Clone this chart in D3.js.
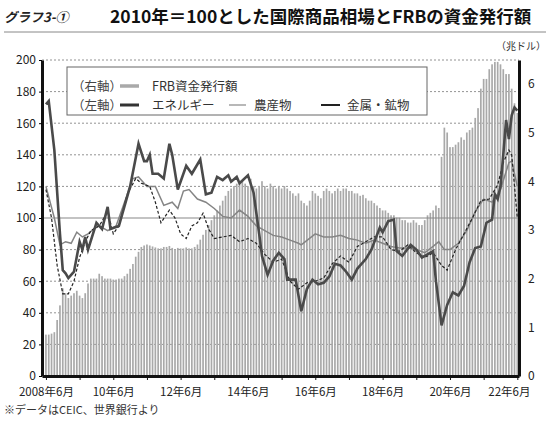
<!DOCTYPE html>
<html><head><meta charset="utf-8">
<script src="https://cdn.jsdelivr.net/npm/d3@7"></script>
<style>body{margin:0;background:#fff}text{font-family:"Noto Sans CJK JP","Noto Sans",sans-serif}</style>
</head><body><svg id="c" width="550" height="422"></svg>
<script>
// FRB money (trillion $), monthly from 2008-06
const frbStart = "2008-06";
const frb = [0.85,0.85,0.87,0.9,1.15,1.45,1.8,
1.7,1.6,1.65,1.7,1.75,1.65,1.6,1.7,1.9,2.0,2.0,2.0,
2.1,2.05,2.0,2.0,2.0,1.98,1.98,2.0,2.0,2.05,2.1,2.2,
2.3,2.45,2.55,2.65,2.68,2.7,2.68,2.66,2.64,2.62,2.62,2.65,
2.65,2.67,2.63,2.6,2.63,2.62,2.62,2.64,2.62,2.62,2.65,2.7,
2.8,2.9,3.0,3.1,3.2,3.3,3.4,3.5,3.6,3.7,3.8,3.85,
3.9,3.95,3.95,4.0,3.95,3.9,4.05,3.9,3.85,3.9,4.0,3.9,
3.85,3.95,3.9,3.85,3.9,3.85,3.9,3.85,3.8,3.75,3.7,3.75,
3.6,3.55,3.5,3.6,3.8,3.75,3.7,3.65,3.8,3.85,3.8,3.75,
3.8,3.85,3.8,3.85,3.85,3.8,3.8,3.75,3.75,3.7,3.72,3.65,
3.6,3.6,3.55,3.5,3.45,3.4,3.4,3.35,3.3,3.3,3.25,3.25,
3.2,3.2,3.15,3.15,3.2,3.15,3.1,3.1,3.2,3.3,3.35,3.4,
3.5,3.45,4.5,5.1,5.0,4.7,4.7,4.75,4.8,4.9,4.85,5.0,
5.05,5.1,5.3,5.5,5.9,6.1,6.1,6.3,6.4,6.45,6.45,6.4,
6.3,6.2,6.2,5.9,5.6,5.4];
// Energy index (2010=100): [month offset from 2008-06, value]
const energy = [[0,172],[1,174],[3,143],[5,90],[6,67],[7,65],[8,62],[10,66],[12,85],[13,80],[14,88],[15,80],[18,97],[20,93],[22,107],[23,93],[26,95],[30,120],[33,147],[35,136],[36,136],[37,140],[38,128],[40,128],[42,125],[44,147],[45,140],[47,118],[50,133],[52,128],[55,137],[57,115],[59,116],[61,126],[63,124],[65,127],[66,123],[68,126],[69,122],[72,127],[74,116],[76,90],[77,76],[79,64],[81,73],[83,78],[85,74],[86,61],[89,61],[91,41],[93,55],[95,61],[97,58],[99,59],[101,63],[103,71],[105,70],[107,66],[109,61],[111,68],[114,74],[116,80],[119,94],[120,91],[122,98],[124,99],[125,79],[127,76],[130,83],[132,80],[134,75],[136,77],[138,79],[139,60],[141,32],[143,45],[145,53],[147,51],[149,57],[151,72],[153,81],[155,82],[157,97],[159,99],[160,115],[161,112],[162,120],[163,140],[164,162],[165,150],[166,165],[167,170],[168,168]];
const agri = [[0,120],[3,100],[5,83],[7,85],[9,84],[11,91],[13,88],[15,90],[17,93],[19,95],[22,92],[25,95],[28,110],[31,125],[33,126],[36,120],[39,120],[42,108],[45,110],[47,106],[49,117],[51,118],[54,112],[57,110],[60,106],[63,101],[66,100],[69,105],[72,101],[75,95],[78,92],[81,89],[84,88],[87,86],[90,84],[91,83],[96,90],[99,88],[102,88],[105,89],[108,87],[111,86],[114,84],[117,86],[120,84],[123,82],[126,81],[129,81],[132,80],[135,78],[138,82],[140,85],[142,80],[144,80],[147,84],[150,92],[153,104],[156,112],[159,110],[162,118],[165,135],[166,136],[168,120]];
const metals = [[0,118],[2,100],[4,70],[6,52],[8,52],[10,60],[12,75],[14,85],[16,92],[19,95],[22,104],[24,90],[26,95],[29,115],[32,125],[34,122],[37,120],[39,110],[41,97],[44,105],[46,100],[48,90],[50,87],[52,95],[54,97],[56,103],[58,93],[60,87],[63,88],[66,89],[69,85],[72,87],[75,84],[78,77],[81,72],[84,74],[87,60],[90,55],[93,59],[96,60],[99,62],[102,71],[105,76],[108,72],[111,82],[114,85],[117,88],[120,88],[123,80],[126,79],[129,83],[132,78],[135,75],[138,78],[141,70],[143,67],[146,80],[149,90],[152,100],[155,111],[158,112],[161,121],[163,135],[165,143],[166,140],[167,120],[168,100]];
const leftTicks = [0,20,40,60,80,100,120,140,160,180,200];
const rightTicks = [0,1,2,3,4,5,6];
const xTickLabels = ["2008年6月","10年6月","12年6月","14年6月","16年6月","18年6月","20年6月","22年6月"];

const svg = d3.select("#c");
const x = d3.scaleLinear().domain([-1.4,168.6]).range([42,519]);
const yL = d3.scaleLinear().domain([0,200]).range([376,60]);
const yR = d3.scaleLinear().domain([0,316/48.7]).range([376,60]);

svg.append("text").attr("x",4).attr("y",22).attr("font-size",13).attr("font-weight","bold").attr("font-style","italic").attr("fill","#222").text("グラフ3-①");
svg.append("text").attr("x",110).attr("y",23).attr("font-size",17.5).attr("font-weight","bold").attr("fill","#111").text("2010年＝100とした国際商品相場とFRBの資金発行額");
svg.append("line").attr("x1",4).attr("x2",546).attr("y1",32).attr("y2",32).attr("stroke","#888").attr("stroke-width",1);

leftTicks.forEach(t=>{ if(t===0||t===100) return;
  svg.append("line").attr("x1",42).attr("x2",519).attr("y1",yL(t)).attr("y2",yL(t))
   .attr("stroke","#777").attr("stroke-width",0.8).attr("stroke-dasharray","2,2");
});
const bw = 1.7;
svg.append("g").selectAll("rect").data(frb).join("rect")
  .attr("x",(d,i)=>x(i)-bw/2).attr("width",bw).attr("y",d=>yR(d)).attr("height",d=>376-yR(d)).attr("fill","#a9a9a9");
svg.append("line").attr("x1",42).attr("x2",519).attr("y1",yL(100)).attr("y2",yL(100)).attr("stroke","#888").attr("stroke-width",1.2);

const line = d3.line().x(d=>x(d[0])).y(d=>yL(d[1]));
svg.append("path").datum(agri).attr("d",line).attr("fill","none").attr("stroke","#858585").attr("stroke-width",1.5);
svg.append("path").datum(metals).attr("d",line).attr("fill","none").attr("stroke","#222").attr("stroke-width",1.2).attr("stroke-dasharray","3,2");
svg.append("path").datum(energy).attr("d",line).attr("fill","none").attr("stroke","#4a4a4a").attr("stroke-width",2.6);

const gl = svg.append("g").attr("transform","translate(42,0)")
  .call(d3.axisLeft(yL).tickValues(leftTicks).tickSize(3).tickSizeOuter(0));
const gr = svg.append("g").attr("transform","translate(519,0)")
  .call(d3.axisRight(yR).tickValues(rightTicks).tickFormat(d3.format("d")).tickSize(0).tickSizeOuter(0).tickPadding(9));
const xTickVals = d3.range(0,169,12);
const gx = svg.append("g").attr("transform","translate(0,376)")
  .call(d3.axisBottom(x).tickValues(xTickVals).tickSize(4).tickSizeOuter(0)
   .tickFormat((d,i)=> i%2===0 ? xTickLabels[i/2] : ""));
[gl,gr,gx].forEach(g=>{
  g.selectAll("text").attr("font-size",12).attr("fill","#222");
});
gx.selectAll("text").attr("font-size",11.5).attr("dy","1.15em");
gx.selectAll(".tick").filter((d,i)=>i===14).select("text").attr("text-anchor","end").attr("dx","1.1em");
gl.select(".domain").attr("stroke","#111").attr("stroke-width",3);
gr.select(".domain").attr("stroke","#111").attr("stroke-width",3);
gx.select(".domain").attr("stroke","#111").attr("stroke-width",3);
gx.selectAll("line").attr("stroke","#111");
svg.append("text").attr("x",546).attr("y",50).attr("text-anchor","end").attr("font-size",10).attr("fill","#333").text("（兆ドル）");

svg.append("rect").attr("x",67).attr("y",67).attr("width",360).attr("height",48).attr("fill","#fff").attr("stroke","#666").attr("stroke-width",1);
const lf = 12.5;
svg.append("text").attr("x",72).attr("y",91).attr("font-size",lf).attr("fill","#444").text("（右軸）");
svg.append("line").attr("x1",120).attr("x2",139).attr("y1",86).attr("y2",86).attr("stroke","#a9a9a9").attr("stroke-width",3.5);
svg.append("text").attr("x",152).attr("y",91).attr("font-size",lf).attr("fill","#333").text("FRB資金発行額");
svg.append("text").attr("x",72).attr("y",110).attr("font-size",lf).attr("fill","#444").text("（左軸）");
svg.append("line").attr("x1",120).attr("x2",139).attr("y1",105).attr("y2",105).attr("stroke","#333").attr("stroke-width",3);
svg.append("text").attr("x",152).attr("y",110).attr("font-size",lf).attr("fill","#333").text("エネルギー");
svg.append("line").attr("x1",229).attr("x2",246).attr("y1",105).attr("y2",105).attr("stroke","#888").attr("stroke-width",1.2);
svg.append("text").attr("x",254).attr("y",110).attr("font-size",lf).attr("fill","#333").text("農産物");
svg.append("line").attr("x1",321).attr("x2",340).attr("y1",105).attr("y2",105).attr("stroke","#222").attr("stroke-width",2);
svg.append("text").attr("x",347).attr("y",110).attr("font-size",lf).attr("fill","#333").text("金属・鉱物");

svg.append("text").attr("x",4).attr("y",414).attr("font-size",11).attr("fill","#333").text("※データはCEIC、世界銀行より");
</script></body></html>
